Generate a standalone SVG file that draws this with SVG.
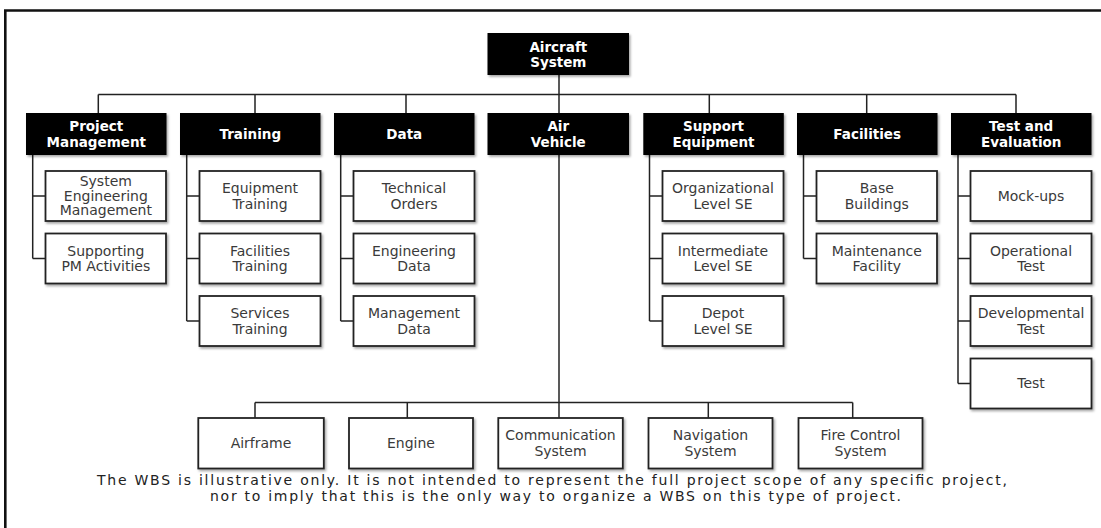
<svg xmlns="http://www.w3.org/2000/svg" width="1101" height="528" viewBox="0 0 1101 528">
<style>
.frame{fill:none;stroke:#111;stroke-width:2.6}
.hd rect{fill:#050505;filter:url(#sh)}
.hd text{font-family:"DejaVu Sans",sans-serif;font-weight:bold;font-size:13.5px;fill:#fff;text-anchor:middle}
.ch rect{fill:#fff;stroke:#222;stroke-width:1.8;filter:url(#sh)}
.ch text{font-family:"DejaVu Sans",sans-serif;font-size:14px;fill:#3a3a3a;text-anchor:middle}
.con path{fill:none;stroke:#222;stroke-width:1.5}
.note{font-family:"DejaVu Sans",sans-serif;font-size:14px;fill:#222;text-anchor:middle}
</style>
<defs>
<filter id="sh" x="-5%" y="-10%" width="115%" height="130%">
<feDropShadow dx="1.5" dy="1.8" stdDeviation="0.9" flood-color="#000" flood-opacity="0.35"/>
</filter>
</defs>
<rect width="1101" height="528" fill="#fff"/>
<path class="frame" d="M5.3 528V10.5H1101"/>

<g class="con">
<path d="M559 75V113"/>
<path d="M98.3 94.5H1016M98.3 94.5V113M255 94.5V113M406 94.5V113M709.3 94.5V113M866.7 94.5V113M1016 94.5V113"/>
<path d="M32.7 155V258.5M32.7 196H45.5M32.7 258.5H45.5"/>
<path d="M186.7 155V321M186.7 196H199.5M186.7 258.5H199.5M186.7 321H199.5"/>
<path d="M340.7 155V321M340.7 196H353.5M340.7 258.5H353.5M340.7 321H353.5"/>
<path d="M649.5 155V321M649.5 196H662.5M649.5 258.5H662.5M649.5 321H662.5"/>
<path d="M803.5 155V258.5M803.5 196H816.5M803.5 258.5H816.5"/>
<path d="M958 155V383.5M958 196H970.5M958 258.5H970.5M958 321H970.5M958 383.5H970.5"/>
<path d="M559 155V418"/>
<path d="M255 402.5H852.7M255 402.5V418M407.3 402.5V418M708.3 402.5V418M852.7 402.5V418"/>
</g>

<g id="root" class="hd"><rect x="487.5" y="33" width="141.5" height="42"/><text x="558.3" y="51.5">Aircraft</text><text x="558.3" y="67">System</text></g>

<g id="pm" class="hd"><rect x="26" y="113" width="140.5" height="42"/><text x="96.3" y="131.2">Project</text><text x="96.3" y="146.6">Management</text></g>
<g id="training" class="hd"><rect x="180" y="113" width="140.5" height="42"/><text x="250.3" y="138.9">Training</text></g>
<g id="data" class="hd"><rect x="334" y="113" width="140.5" height="42"/><text x="404.3" y="138.9">Data</text></g>
<g id="airvehicle" class="hd"><rect x="487.5" y="113" width="141.5" height="42"/><text x="558.3" y="131.2">Air</text><text x="558.3" y="146.6">Vehicle</text></g>
<g id="support" class="hd"><rect x="643.3" y="113" width="140.5" height="42"/><text x="713.5" y="131.2">Support</text><text x="713.5" y="146.6">Equipment</text></g>
<g id="facilities" class="hd"><rect x="797" y="113" width="140.5" height="42"/><text x="867.2" y="138.9">Facilities</text></g>
<g id="testeval" class="hd"><rect x="951" y="113" width="140.5" height="42"/><text x="1021.2" y="131.2">Test and</text><text x="1021.2" y="146.6">Evaluation</text></g>

<g id="pm1" class="ch"><rect x="45.5" y="171" width="120.5" height="50"/><text x="105.8" y="186">System</text><text x="105.8" y="200.5">Engineering</text><text x="105.8" y="214.8">Management</text></g>
<g id="pm2" class="ch"><rect x="45.5" y="233.5" width="120.5" height="50"/><text x="105.8" y="255.5">Supporting</text><text x="105.8" y="271.2">PM Activities</text></g>

<g id="tr1" class="ch"><rect x="199.5" y="171" width="121" height="50"/><text x="260" y="193">Equipment</text><text x="260" y="208.7">Training</text></g>
<g id="tr2" class="ch"><rect x="199.5" y="233.5" width="121" height="50"/><text x="260" y="255.5">Facilities</text><text x="260" y="271.2">Training</text></g>
<g id="tr3" class="ch"><rect x="199.5" y="296" width="121" height="50"/><text x="260" y="318">Services</text><text x="260" y="333.7">Training</text></g>

<g id="da1" class="ch"><rect x="353.5" y="171" width="121" height="50"/><text x="414" y="193">Technical</text><text x="414" y="208.7">Orders</text></g>
<g id="da2" class="ch"><rect x="353.5" y="233.5" width="121" height="50"/><text x="414" y="255.5">Engineering</text><text x="414" y="271.2">Data</text></g>
<g id="da3" class="ch"><rect x="353.5" y="296" width="121" height="50"/><text x="414" y="318">Management</text><text x="414" y="333.7">Data</text></g>

<g id="se1" class="ch"><rect x="662.5" y="171" width="121" height="50"/><text x="723" y="193">Organizational</text><text x="723" y="208.7">Level SE</text></g>
<g id="se2" class="ch"><rect x="662.5" y="233.5" width="121" height="50"/><text x="723" y="255.5">Intermediate</text><text x="723" y="271.2">Level SE</text></g>
<g id="se3" class="ch"><rect x="662.5" y="296" width="121" height="50"/><text x="723" y="318">Depot</text><text x="723" y="333.7">Level SE</text></g>

<g id="fa1" class="ch"><rect x="816.5" y="171" width="120.5" height="50"/><text x="876.8" y="193">Base</text><text x="876.8" y="208.7">Buildings</text></g>
<g id="fa2" class="ch"><rect x="816.5" y="233.5" width="120.5" height="50"/><text x="876.8" y="255.5">Maintenance</text><text x="876.8" y="271.2">Facility</text></g>

<g id="te1" class="ch"><rect x="970.5" y="171" width="121" height="50"/><text x="1031" y="201">Mock-ups</text></g>
<g id="te2" class="ch"><rect x="970.5" y="233.5" width="121" height="50"/><text x="1031" y="255.5">Operational</text><text x="1031" y="271.2">Test</text></g>
<g id="te3" class="ch"><rect x="970.5" y="296" width="121" height="50"/><text x="1031" y="318">Developmental</text><text x="1031" y="333.7">Test</text></g>
<g id="te4" class="ch"><rect x="970.5" y="358.5" width="121" height="50"/><text x="1031" y="388.4">Test</text></g>

<g id="av1" class="ch"><rect x="198.3" y="418" width="125.5" height="50.5"/><text x="261" y="448">Airframe</text></g>
<g id="av2" class="ch"><rect x="349" y="418" width="124" height="50.5"/><text x="411" y="448">Engine</text></g>
<g id="av3" class="ch"><rect x="498.3" y="418" width="124.5" height="50.5"/><text x="560.5" y="440">Communication</text><text x="560.5" y="455.6">System</text></g>
<g id="av4" class="ch"><rect x="648.5" y="418" width="124" height="50.5"/><text x="710.5" y="440">Navigation</text><text x="710.5" y="455.6">System</text></g>
<g id="av5" class="ch"><rect x="798.5" y="418" width="124" height="50.5"/><text x="860.5" y="440">Fire Control</text><text x="860.5" y="455.6">System</text></g>

<text class="note" x="552" y="484.5" textLength="910" lengthAdjust="spacing">The WBS is illustrative only. It is not intended to represent the full project scope of any specific project,</text>
<text class="note" x="555.5" y="500.5" textLength="691" lengthAdjust="spacing">nor to imply that this is the only way to organize a WBS on this type of project.</text>
</svg>
